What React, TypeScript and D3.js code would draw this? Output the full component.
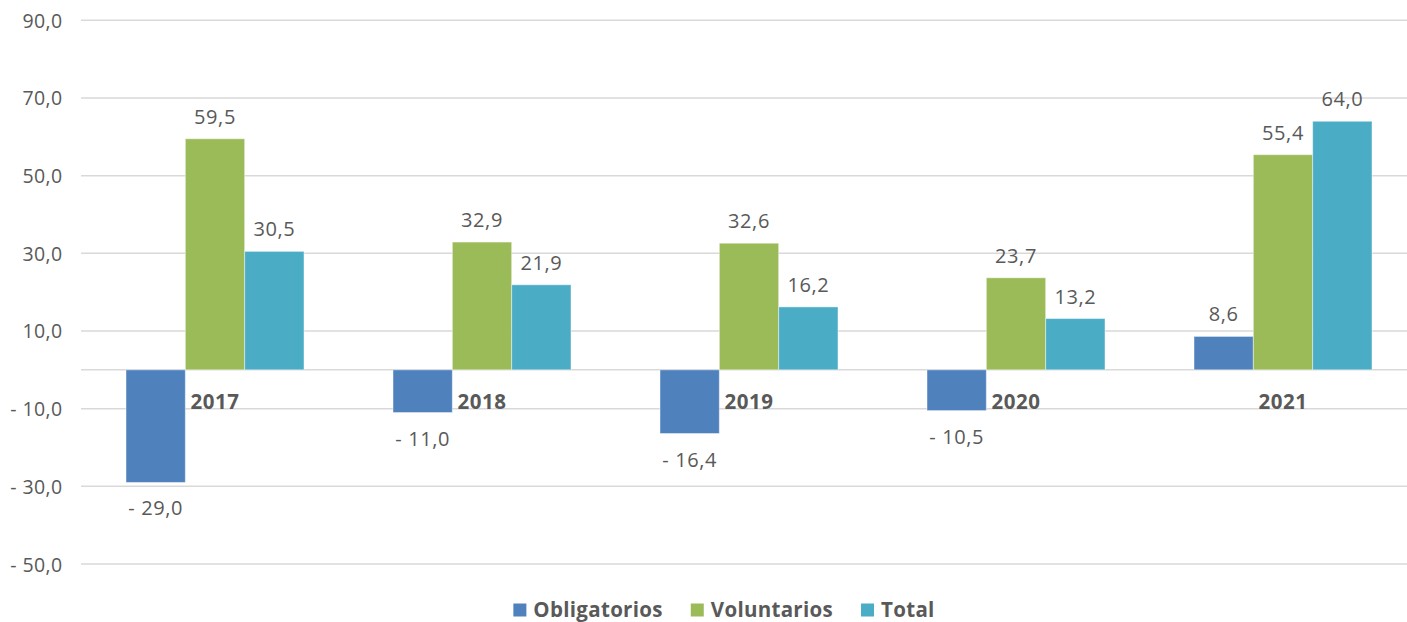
import React, { useEffect, useRef } from 'react';
import * as d3 from 'd3';

// Chart values
const years = ['2017', '2018', '2019', '2020', '2021'];
const seriesNames = ['Obligatorios', 'Voluntarios', 'Total'];
const obligatorios = [-29.0, -11.0, -16.4, -10.5, 8.6];
const voluntarios = [59.5, 32.9, 32.6, 23.7, 55.4];
const total = [30.5, 21.9, 16.2, 13.2, 64.0];
const yTicks = [-50, -30, -10, 10, 30, 50, 70, 90];
const colors = ['#4F81BD', '#9BBB59', '#4BACC6'];

const WIDTH = 1407;
const HEIGHT = 622;
const FONT = '"Open Sans", "Segoe UI", sans-serif';
const TEXT = '#595959';

// Excel accounting style: "- 29,0"
const fmt = (v: number) => {
  const s = Math.abs(v).toFixed(1).replace('.', ',');
  return v < 0 ? `- ${s}` : s;
};

const App: React.FC = () => {
  const svgRef = useRef<SVGSVGElement>(null);

  useEffect(() => {
    if (!svgRef.current) return;
    const svg = d3.select(svgRef.current);
    svg.selectAll('*').remove();

    const series = [obligatorios, voluntarios, total];

    const x = d3.scaleBand<string>().domain(years).range([81.5, 1416.5]).paddingInner(0).paddingOuter(0);
    const inner = d3
      .scaleBand<string>()
      .domain(seriesNames)
      .range([0, x.bandwidth()])
      .paddingInner(0)
      .paddingOuter(0.75);
    const y = d3.scaleLinear().domain([-50, 90]).range([564, 20.3]);

    // gridlines
    svg
      .append('g')
      .selectAll('line')
      .data(yTicks)
      .join('line')
      .attr('x1', 81)
      .attr('x2', WIDTH)
      .attr('y1', d => y(d))
      .attr('y2', d => y(d))
      .attr('stroke', '#D9D9D9')
      .attr('stroke-width', 1.5);

    // zero axis
    svg
      .append('line')
      .attr('x1', 81)
      .attr('x2', WIDTH)
      .attr('y1', y(0))
      .attr('y2', y(0))
      .attr('stroke', '#D9D9D9')
      .attr('stroke-width', 1.5);

    // y tick labels
    svg
      .append('g')
      .selectAll('text')
      .data(yTicks)
      .join('text')
      .attr('x', 62.5)
      .attr('y', d => y(d) + 7.5)
      .attr('text-anchor', 'end')
      .style('font', `19.5px ${FONT}`)
      .style('letter-spacing', '0.4px')
      .attr('fill', TEXT)
      .text(d => fmt(d));

    // bars
    const flat = series.flatMap((vals, si) =>
      vals.map((v, i) => ({ year: years[i], name: seriesNames[si], si, v }))
    );

    svg
      .append('g')
      .selectAll('rect')
      .data(flat)
      .join('rect')
      .attr('x', d => (x(d.year) || 0) + (inner(d.name) || 0))
      .attr('width', inner.bandwidth())
      .attr('y', d => Math.min(y(d.v), y(0)))
      .attr('height', d => Math.abs(y(d.v) - y(0)))
      .attr('fill', d => colors[d.si])
      .attr('stroke', '#ffffff')
      .attr('stroke-opacity', 0.45)
      .attr('stroke-width', 1);

    // value labels
    svg
      .append('g')
      .selectAll('text')
      .data(flat)
      .join('text')
      .attr('x', d => (x(d.year) || 0) + (inner(d.name) || 0) + inner.bandwidth() / 2)
      .attr('y', d => (d.v >= 0 ? y(d.v) - 15 : y(d.v) + 33))
      .attr('text-anchor', 'middle')
      .style('font', `20px ${FONT}`)
      .style('letter-spacing', '0.6px')
      .attr('fill', TEXT)
      .text(d => fmt(d.v));

    // category labels below the zero line
    svg
      .append('g')
      .selectAll('text')
      .data(years)
      .join('text')
      .attr('x', d => (x(d) || 0) + x.bandwidth() / 2)
      .attr('y', y(0) + 39.5)
      .attr('text-anchor', 'middle')
      .style('font', `bold 20.5px ${FONT}`)
      .style('letter-spacing', '0.5px')
      .attr('fill', TEXT)
      .text(d => d);

    // legend
    const legend = svg.append('g');
    const items = legend
      .selectAll('g')
      .data(seriesNames)
      .join('g');
    items
      .append('rect')
      .attr('width', 13)
      .attr('height', 13)
      .attr('y', 603.5)
      .attr('fill', (_d, i) => colors[i]);
    const labels = items
      .append('text')
      .attr('x', 20)
      .attr('y', 616.5)
      .style('font', `bold 20.5px ${FONT}`)
      .style('letter-spacing', '0.3px')
      .attr('fill', TEXT)
      .text(d => d);

    const widths: number[] = [];
    labels.each(function () {
      widths.push((this as SVGTextElement).getComputedTextLength());
    });
    const gap = 28;
    const itemW = widths.map(w => 20 + w);
    const totalW = d3.sum(itemW) + gap * (itemW.length - 1);
    let cx = 724 - totalW / 2;
    items.attr('transform', (_d, i) => {
      const t = `translate(${cx},0)`;
      cx += itemW[i] + gap;
      return t;
    });
  }, []);

  return (
    <svg
      ref={svgRef}
      width={WIDTH}
      height={HEIGHT}
      style={{ position: 'absolute', left: 0, top: 0, background: '#fff' }}
    />
  );
};

export default App;
